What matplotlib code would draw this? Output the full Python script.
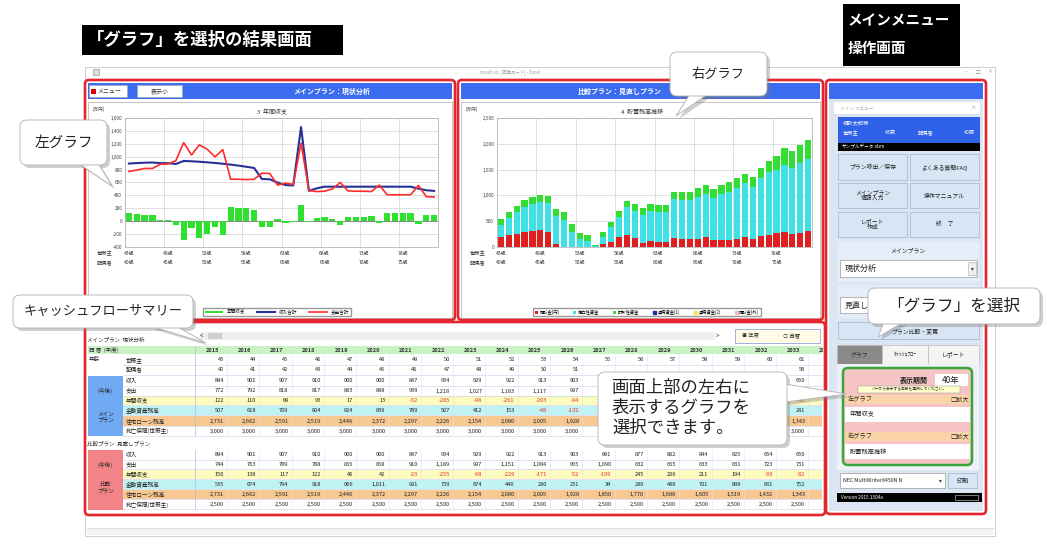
import numpy as np
import matplotlib
matplotlib.use('Agg')
import matplotlib.pyplot as plt
from matplotlib.patches import FancyBboxPatch, Rectangle, Polygon, Patch
from matplotlib.ticker import FuncFormatter

plt.rcParams['font.family'] = ['Noto Sans CJK JP', 'DejaVu Sans']

W, H = 1047, 546

# ---------------- chart data (40 years, from age 43) ----------------
chart_head_ages = [43, 48, 53, 58, 63, 68, 73, 78]
chart_spouse_ages = [40, 45, 50, 55, 60, 65, 70, 75]

# left chart: main plan, yearly income / expense / balance (万円)
lg_income = [894, 901, 907, 910, 900, 900, 887, 934, 929, 922, 913, 903, 891, 877, 862, 844, 825, 654, 650, 600,
             560, 555, 1460, 470, 510, 535, 535, 535, 535, 535, 535, 535, 535, 535, 535, 535, 535, 505, 480, 470]
lg_expense = [772, 792, 818, 817, 883, 888, 939, 1218, 1027, 1183, 1117, 997, 1110, 651, 650, 645, 650, 745, 740, 560,
              590, 570, 1210, 475, 460, 465, 500, 600, 470, 465, 465, 460, 560, 410, 410, 410, 410, 555, 380, 375]
lg_balance = [122, 110, 89, 93, 17, 13, -52, -285, -98, -261, -203, -94, -219, 226, 212, 199, 175, -91, -90, 40,
              -30, -15, 250, -5, 50, 70, 35, -65, 65, 70, 70, 75, -25, 125, 125, 125, 125, -50, 100, 95]

# right chart: comparison plan, savings balance stacks (万円)
rg_cash = [195, 227, 260, 292, 312, 338, 300, 65, 0, 0, 0, 0, 5, 65, 97, 195, 240, 175, 84, 110,
           97, 97, 175, 162, 162, 162, 195, 130, 130, 143, 162, 195, 162, 208, 240, 273, 292, 260, 273, 305]
rg_invest = [230, 337, 424, 483, 524, 530, 548, 531, 531, 284, 150, 114, 14, 128, 294, 396, 541, 526, 538, 585,
             585, 585, 746, 747, 747, 812, 831, 824, 889, 928, 987, 1039, 1007, 1123, 1219, 1220, 1294, 1280, 1358, 1393]
rg_saving = [110, 110, 110, 143, 130, 143, 143, 143, 143, 162, 130, 117, 15, 97, 97, 110, 117, 130, 130, 136,
             130, 130, 150, 162, 162, 175, 175, 169, 182, 182, 182, 175, 195, 195, 210, 280, 330, 330, 350, 380]
rg_labels = ['預貯金(円)', '積立性資金', '財形性資金', '運用資金(1)', '運用資金(2)', '預貯金(外)']
rg_colors = ['#e02020', '#3fe0e6', '#33dd33', '#1f2f9a', '#f2e85a', '#f4b6c6']

# ---------------- cash-flow table data ----------------
years = [2015, 2016, 2017, 2018, 2019, 2020, 2021, 2022, 2023, 2024,
         2025, 2026, 2027, 2028, 2029, 2030, 2031, 2032, 2033, 2034]
head_age = [43, 44, 45, 46, 47, 48, 49, 50, 51, 52, 53, 54, 55, 56, 57, 58, 59, 60, 61, 62]
spouse_age = [40, 41, 42, 43, 44, 45, 46, 47, 48, 49, 50, 51, 52, 53, 54, 55, 56, 57, 58, 59]
income = [894, 901, 907, 910, 900, 900, 887, 934, 929, 922, 913, 903, 891, 877, 862, 844, 825, 654, 650, 612]
main_expense = [772, 792, 818, 817, 883, 888, 939, 1218, 1027, 1183, 1117, 997, 1110, 651, 650, 645, 650, 745, 740, 600]
main_balance = [122, 110, 89, 93, 17, 13, -52, -285, -98, -261, -203, -94, -219, 226, 212, 199, 175, -91, -90, 12]
main_assets = [507, 618, 709, 804, 824, 839, 789, 507, 412, 153, -48, -132, -351, -125, 87, 286, 461, 370, 281, 293]
loan = [2731, 2662, 2591, 2519, 2446, 2372, 2297, 2226, 2154, 2080, 2005, 1928, 1850, 1770, 1688, 1605, 1519, 1432, 1343, 1252]
main_cover = [3000] * 20
comp_expense = [744, 763, 789, 788, 855, 858, 910, 1189, 997, 1151, 1084, 955, 1090, 632, 655, 633, 631, 723, 731, 590]
comp_balance = [150, 138, 117, 122, 46, 42, -23, -255, -68, -229, -171, -52, -199, 245, 206, 211, 194, -69, -82, 22]
comp_assets = [535, 674, 794, 918, 966, 1011, 991, 739, 674, 446, 280, 231, 34, 280, 488, 701, 898, 831, 752, 810]
comp_cover = [2500] * 20

# ---------------- figure helpers ----------------
fig = plt.figure(figsize=(W / 100, H / 100), dpi=100)
fig.patch.set_facecolor('white')


def add_px_axes(x0, y0, x1, y1, z=1):
    return fig.add_axes([x0 / W, 1 - y1 / H, (x1 - x0) / W, (y1 - y0) / H], zorder=z)


def px_canvas(x0=0, y0=0, x1=W, y1=H, z=0):
    ax = add_px_axes(x0, y0, x1, y1, z)
    ax.set_xlim(x0, x1)
    ax.set_ylim(y1, y0)
    ax.axis('off')
    ax.patch.set_alpha(0)
    return ax


def rect(ax, x0, y0, x1, y1, fc='white', ec='none', lw=0.6, r=0, z=1, alpha=1.0):
    if r:
        p = FancyBboxPatch((x0, y0), x1 - x0, y1 - y0, boxstyle=f'round,pad=0,rounding_size={r}',
                           fc=fc, ec=ec, lw=lw, zorder=z, alpha=alpha)
    else:
        p = Rectangle((x0, y0), x1 - x0, y1 - y0, fc=fc, ec=ec, lw=lw, zorder=z, alpha=alpha)
    ax.add_patch(p)
    return p


def txt(ax, x, y, s, size=4.5, color='#222', ha='left', va='center', weight='normal', z=3, **kw):
    return ax.text(x, y, s, fontsize=size, color=color, ha=ha, va=va, fontweight=weight, zorder=z, **kw)


# region of the table covered by the big callout (cells there are not visible)
hidden = (592, 368, 795, 450)


def covered(x, y):
    return hidden[0] < x < hidden[2] and hidden[1] < y < hidden[3]


ui = px_canvas(z=0)
top = px_canvas(z=5)

RED = '#e3262d'
BLUE = '#3c6cf0'

# ---------------- window chrome ----------------
rect(ui, 85, 67, 995, 536, fc='white', ec='#c8c8c8', lw=0.6)
txt(ui, 510, 72, 'result.xls  [互換モード] - Excel', 3.2, '#999', ha='center')
rect(ui, 93, 69, 99, 75, fc='#dddddd', ec='#888', lw=0.4)
for xx, s in [(966, '–'), (978, '□'), (990, '×')]:
    txt(ui, xx, 72, s, 3.5, '#888', ha='center')
ui.plot([87, 993], [528, 528], color='#d8d8d8', lw=0.6)
rect(ui, 87, 529, 993, 535, fc='#f3f3f3', ec='none')

# headings
rect(ui, 82, 25, 343, 55, fc='black')
txt(ui, 87, 40, '「グラフ」を選択の結果画面', 12.5, 'white', weight='bold')
rect(ui, 843, 4, 960, 66, fc='black')
txt(ui, 848, 20, 'メインメニュー', 10.5, 'white', weight='bold')
txt(ui, 848, 48, '操作画面', 10.5, 'white', weight='bold')

# ---------------- chart panels ----------------
for (x0, x1, title, tx) in [(85, 455, 'メインプラン：現状分析', 332), (458, 823, '比較プラン：見直しプラン', 620)]:
    rect(ui, x0 + 3, 83, x1 - 3, 99, fc=BLUE)
    txt(ui, tx, 91, title, 5, 'white', ha='center', weight='bold')
    rect(ui, x0 + 3, 102, x1 - 3, 318, fc='white', ec='#bdbdbd', lw=0.6)
    txt(ui, x0 + 8, 109, '(万円)', 3.3, '#444')
    txt(ui, x0 + 20, 253, '世帯主', 3.8, '#333', ha='center')
    txt(ui, x0 + 20, 263, '配偶者', 3.8, '#333', ha='center')

rect(ui, 89, 85, 127, 97, fc='white', ec='#9aa', lw=0.4)
rect(ui, 91, 88.5, 95.5, 93.5, fc='#e00000')
txt(ui, 97, 91, 'メニュー', 4.3, '#333')
rect(ui, 137, 85, 182, 97, fc='white', ec='#9aa', lw=0.4)
txt(ui, 159.5, 91, '表示小', 4.3, '#333', ha='center')

txt(ui, 272, 112, '3  年間収支', 4.3, '#333', ha='center')
txt(ui, 642, 112, '4  貯蓄残高推移', 4.3, '#333', ha='center')

idx = np.arange(40)
comma = FuncFormatter(lambda v, p: f'{int(v):,}')


def style_chart(ax):
    ax.set_xlim(-0.5, 39.5)
    ax.set_xticks(np.arange(-0.5, 40, 5))
    ax.set_xticklabels([])
    ax.grid(True, color='#d2d2d2', lw=0.5)
    ax.set_axisbelow(True)
    ax.tick_params(labelsize=3.4, length=0, pad=2, colors='#444')
    ax.yaxis.set_major_formatter(comma)
    for sp in ax.spines.values():
        sp.set_color('#aaaaaa')
        sp.set_linewidth(0.5)
    tr = ax.get_xaxis_transform()
    for k, (h, s) in enumerate(zip(chart_head_ages, chart_spouse_ages)):
        ax.text(k * 5, -0.047, f'{h}歳', transform=tr, fontsize=3.6, ha='center', va='center', color='#333')
        ax.text(k * 5, -0.124, f'{s}歳', transform=tr, fontsize=3.6, ha='center', va='center', color='#333')


axL = add_px_axes(125, 118, 438, 247, z=2)
bL = axL.bar(idx, lg_balance, width=0.8, color='#2fe02f', zorder=2, label='年間収支')
lI, = axL.plot(idx, lg_income, color='#263196', lw=1.5, zorder=3, label='収入合計')
lE, = axL.plot(idx, lg_expense, color='#ff2b2b', lw=1.2, zorder=4, label='支出合計')
axL.axhline(0, color='#666', lw=0.5, zorder=1)
axL.set_ylim(-400, 1600)
axL.set_yticks(range(-400, 1601, 200))
style_chart(axL)
axL.legend(handles=[bL, lI, lE], loc='center', bbox_to_anchor=(277 / W, 1 - 312 / H),
           bbox_transform=fig.transFigure, ncol=3, fontsize=3.3, handlelength=4, handleheight=0.5,
           columnspacing=2.5, borderpad=0.3, fancybox=False, edgecolor='#999', framealpha=1)

axR = add_px_axes(497, 118, 812, 247, z=2)
b0 = np.zeros(40)
handles = []
for vals, col, lab in zip([rg_cash, rg_invest, rg_saving], rg_colors[:3], rg_labels[:3]):
    handles.append(axR.bar(idx, vals, bottom=b0, width=0.78, color=col, zorder=2, label=lab))
    b0 = b0 + np.array(vals)
for col, lab in zip(rg_colors[3:], rg_labels[3:]):
    handles.append(Patch(color=col, label=lab))
axR.set_ylim(0, 2500)
axR.set_yticks(range(0, 2501, 500))
style_chart(axR)
axR.legend(handles=handles, loc='center', bbox_to_anchor=(647 / W, 1 - 312 / H),
           bbox_transform=fig.transFigure, ncol=6, fontsize=3.1, handlelength=0.7, handleheight=0.7,
           handletextpad=0.4, columnspacing=3.2, borderpad=0.3, fancybox=False, edgecolor='#999', framealpha=1)

# ---------------- right menu panel ----------------
rect(ui, 829, 83, 983, 99, fc=BLUE)
rect(ui, 829, 99, 983, 511, fc='#dce6f2')
rect(ui, 834, 102, 980, 114, fc='white')
txt(ui, 840, 108, 'メイン メニュー', 3.3, '#aaa')
txt(ui, 973, 108, '×', 4, '#999', ha='center')
rect(ui, 838, 117, 980, 143, fc='#2f62e8')
txt(ui, 843, 123, '相談太郎様', 3.8, 'white')
txt(ui, 843, 133, '世帯主', 3.8, 'white')
txt(ui, 896, 133, '43歳', 3.8, 'white', ha='right')
txt(ui, 918, 133, '配偶者', 3.8, 'white')
txt(ui, 975, 133, '40歳', 3.8, 'white', ha='right')
rect(ui, 838, 143, 980, 151, fc='black')
txt(ui, 842, 147, 'サンプルデータ.xlsm', 3.3, 'white')
buttons = [['プラン呼出／保存', 'よくある質問FAQ'], ['メインプラン\n情報入力', '操作マニュアル'], ['レポート\n作成', '終　了']]
for r, (y0, y1) in enumerate([(154, 180), (183, 208), (212, 237)]):
    for c, (x0, x1) in enumerate([(838, 907), (910, 979)]):
        rect(ui, x0, y0, x1, y1, fc='#d7e5f4', ec='#9fb3cc', lw=0.5)
        txt(ui, (x0 + x1) / 2, (y0 + y1) / 2, buttons[r][c], 4.2, '#222', ha='center', linespacing=1.1)
rect(ui, 838, 242, 979, 282, fc='#e4edf8')
txt(ui, 908, 251, 'メインプラン', 4.2, '#222', ha='center')
rect(ui, 840, 260, 977, 277, fc='white', ec='#999', lw=0.5)
txt(ui, 845, 268.5, '現状分析', 5.8, '#222')
rect(ui, 968, 262, 976, 275, fc='#eeeeee', ec='#aaa', lw=0.4)
txt(ui, 972, 268.5, '▾', 4, '#333', ha='center')
rect(ui, 838, 285, 979, 318, fc='#e4edf8')
rect(ui, 840, 297, 977, 313, fc='white', ec='#999', lw=0.5)
txt(ui, 845, 305, '見直しプラン', 5.8, '#222')
rect(ui, 838, 322, 979, 339, fc='#d7e5f4', ec='#9fb3cc', lw=0.5)
txt(ui, 915, 331, 'プラン比較・変更', 4.2, '#222', ha='center')
# tabs
for (x0, x1, s, fc) in [(837, 882, 'グラフ', '#8a8a8a'), (882, 928, 'ｷｬｯｼｭﾌﾛｰ', '#f4f4f4'), (928, 979, 'レポート', '#f4f4f4')]:
    rect(ui, x0, 345, x1, 364, fc=fc, ec='#bbbbbb', lw=0.5)
    txt(ui, (x0 + x1) / 2, 354.5, s, 4.2, '#222', ha='center')
rect(ui, 837, 364, 979, 470, fc='#eef2f8')
rect(ui, 843, 368, 972, 465, fc='#f6c4c4', ec='#3aa63a', lw=1.8, r=5)
txt(ui, 928, 380, '表示期間', 5, '#222', ha='right', weight='bold')
rect(ui, 935, 374, 968, 386, fc='white')
txt(ui, 951, 380, '40年', 6, '#222', ha='center')
rect(ui, 858, 386, 960, 392.5, fc='#ffffcc', ec='#888', lw=0.3)
txt(ui, 909, 389.3, 'バーから表示する年数を選択してください。', 2.7, '#333', ha='center')
for y0, lab, val in [(395, '左グラフ', '年間収支'), (432, '右グラフ', '貯蓄残高推移')]:
    rect(ui, 845, y0, 970, y0 + 9, fc='#fbd3a9')
    txt(ui, 848, y0 + 4.5, lab, 4.5, '#222')
    txt(ui, 950, y0 + 4.5, '□拡大', 4.5, '#222')
    rect(ui, 845, y0 + 12, 970, y0 + 27, fc='white')
    txt(ui, 850, y0 + 19.5, val, 4.5, '#222')
rect(ui, 840, 473, 945, 488, fc='white', ec='#999', lw=0.5)
txt(ui, 843, 480.5, 'NEC MultiWriter8450N N', 3.8, '#222')
txt(ui, 940, 480.5, '▾', 4, '#333', ha='center')
rect(ui, 948, 473, 977, 488, fc='#d7e5f4', ec='#9fb3cc', lw=0.5)
txt(ui, 962.5, 480.5, '印刷', 4.5, '#222', ha='center')
rect(ui, 837, 493, 982, 502, fc='black')
txt(ui, 841, 497.5, 'Version 2015.1304a', 3.4, 'white')
rect(ui, 955, 495, 978, 500, fc='none', ec='#dddddd', lw=0.4)

# ---------------- cash-flow table ----------------
tb = px_canvas(85, 322, 823, 515, z=2)
col_x = [212 + 32.3 * j for j in range(len(years))]

rect(tb, 200, 332, 715, 340, fc='#efefef')
rect(tb, 208, 333, 222, 339, fc='#cfcfcf')
txt(tb, 201, 336, '<', 4.5, '#333', ha='center')
txt(tb, 717, 336, '>', 4.5, '#333', ha='center')
rect(tb, 735, 329, 820, 343, fc='#fffbe6', ec='#8fa8d8', lw=0.6)
txt(tb, 742, 336, '◉ 年度', 3.8, '#333')
txt(tb, 783, 336, '○ 西暦', 3.8, '#333')
txt(tb, 87, 340, 'メインプラン  現状分析', 4, '#333')
txt(tb, 87, 444, '比較プラン  見直しプラン', 4, '#333')

rect(tb, 88, 346, 822, 354.5, fc='#c9f1c4')
txt(tb, 89, 350, '西 暦  (年度)', 4, '#333')
for x, yv in zip(col_x, years):
    txt(tb, x, 350.3, str(yv), 4, '#333', ha='center', weight='bold', clip_on=True)

band = {'年間収支': '#fdfbbd', '金融資産残高': '#bff3f3', '住宅ローン残高': '#f8c892'}
main_rows = [(360, '世帯主', head_age), (370, '配偶者', spouse_age), (381, '収入', income),
             (391, '支出', main_expense), (400.5, '年間収支', main_balance), (410.5, '金融資産残高', main_assets),
             (421, '住宅ローン残高', loan), (431, '死亡保障(世帯主)', main_cover)]
comp_rows = [(455, '収入', income), (464.5, '支出', comp_expense), (474.5, '年間収支', comp_balance),
             (484.5, '金融資産残高', comp_assets), (494.5, '住宅ローン残高', loan), (504.5, '死亡保障(世帯主)', comp_cover)]

for rows in (main_rows, comp_rows):
    for y, lab, vals in rows:
        if lab in band:
            rect(tb, 123, y - 4.8, 822, y + 4.8, fc=band[lab], z=0.5)
        tb.plot([123, 822], [y + 4.9, y + 4.9], color='#c9cdea', lw=0.4, zorder=0.8)
        txt(tb, 126, y, lab, 4.1, '#222')
        for x, v in zip(col_x, vals):
            if covered(x + 5, y):
                continue
            col = '#e83030' if v < 0 else '#222'
            txt(tb, x + 12, y, f'{v:,}', 4.1, col, ha='right', clip_on=True)

for x in col_x:
    tb.plot([x + 15, x + 15], [355, 436], color='#e2e4f2', lw=0.4, zorder=0.7)
    tb.plot([x + 15, x + 15], [450, 509], color='#e2e4f2', lw=0.4, zorder=0.7)
tb.plot([195, 195], [346, 436], color='#b8bcd8', lw=0.5)
tb.plot([195, 195], [450, 509], color='#b8bcd8', lw=0.5)
txt(tb, 89, 360, '年齢', 4.1, '#222')
rect(tb, 88, 376, 123, 436.5, fc='#70a9f4')
txt(tb, 105.5, 391, '(今後)', 4.1, '#222', ha='center')
txt(tb, 105.5, 417, 'メイン\nプラン', 4.1, '#222', ha='center', linespacing=1.2)
rect(tb, 88, 450, 123, 509.5, fc='#f28387')
txt(tb, 105.5, 465, '(今後)', 4.1, '#222', ha='center')
txt(tb, 105.5, 488, '比較\nプラン', 4.1, '#222', ha='center', linespacing=1.2)

# ---------------- red highlight borders ----------------
for (x0, y0, x1, y1) in [(85, 80, 455, 320), (458, 80, 823, 320), (826, 80, 986, 514), (85, 322, 825, 515)]:
    rect(top, x0, y0, x1, y1, fc='none', ec=RED, lw=1.9, r=4, z=1)


# ---------------- callouts ----------------
def callout(x0, y0, x1, y1, tail, lines, size, tx=None, ty=None, ha='center', lsp=1.25):
    sh = [(x + 3, y + 3) for x, y in tail]
    top.add_patch(Polygon(sh, closed=True, fc='#777', ec='none', alpha=0.35, zorder=2))
    rect(top, x0 + 3, y0 + 3, x1 + 3, y1 + 3, fc='#777', r=7, z=2, alpha=0.35)
    top.add_patch(Polygon(tail, closed=True, fc='white', ec='#b0b0b0', lw=0.6, zorder=3))
    rect(top, x0, y0, x1, y1, fc='white', ec='#b0b0b0', lw=0.6, r=7, z=3)
    txt(top, tx if tx is not None else (x0 + x1) / 2, ty if ty is not None else (y0 + y1) / 2,
        lines, size, '#222', ha=ha, z=5, linespacing=lsp)


callout(20, 120, 107, 165, [(78, 163), (98, 163), (112, 186)], '左グラフ', 10.5)
callout(670, 52, 767, 96, [(690, 94), (708, 94), (676, 116)], '右グラフ', 9.5)
callout(13, 295, 193, 328, [(150, 326), (176, 326), (206, 343)], 'キャッシュフローサマリー', 9.5)
callout(868, 288, 1040, 324, [(884, 322), (904, 322), (878, 337)], '「グラフ」を選択', 12)
callout(598, 372, 787, 445, [(785, 384), (785, 402), (847, 394)],
        '画面上部の左右に\n表示するグラフを\n選択できます。', 12.5, tx=612, ty=408, ha='left', lsp=1.15)

fig.savefig('out.png', dpi=100)
